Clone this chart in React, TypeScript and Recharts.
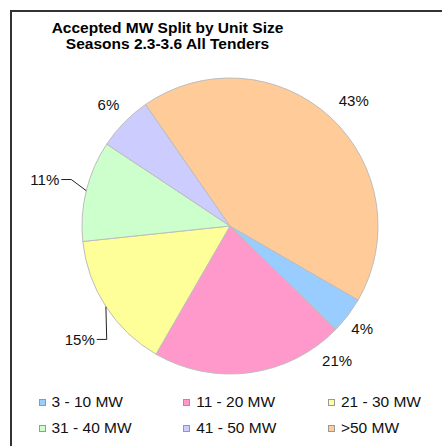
import React from 'react';
import { PieChart, Pie, Cell, Legend } from 'recharts';

const sizeBands = ['3 - 10 MW', '11 - 20 MW', '21 - 30 MW', '31 - 40 MW', '41 - 50 MW', '>50 MW'];
const sharePct = [4, 21, 15, 11, 6, 43];
const bandColors = ['#99CCFF', '#FF99CC', '#FFFF99', '#CCFFCC', '#CCCCFF', '#FFCC99'];

// where each % label sits: nudge from the slice mid angle (deg, ccw) and distance from centre
const labelNudge = [-0.5, 30.7, 7.4, -1.6, -0.6, -2.1];
const labelDist = [167, 172, 175, 175, 172, 176];
const hasLeader = [false, false, true, true, false, false];

const chartData = sizeBands.map((name, i) => ({ name, value: sharePct[i] }));

const RAD = Math.PI / 180;
const FONT = '"Liberation Sans", Arial, Helvetica, sans-serif';

const renderLabel = (props: any) => {
  const { cx, cy, midAngle, outerRadius, index, value } = props;
  const ang = midAngle + labelNudge[index];
  const r = labelDist[index];
  const x = cx + r * Math.cos(-ang * RAD);
  const y = cy + r * Math.sin(-ang * RAD);
  const txt = { fontFamily: FONT, fontSize: 15, fill: '#111' };
  if (hasLeader[index]) {
    const ex = cx + outerRadius * Math.cos(-midAngle * RAD);
    const ey = cy + outerRadius * Math.sin(-midAngle * RAD);
    return (
      <g>
        <polyline points={`${ex},${ey} ${x + 10},${y} ${x},${y}`} fill="none" stroke="#222" strokeWidth={1} />
        <text x={x - 2} y={y} textAnchor="end" dominantBaseline="central" style={txt}>{value}%</text>
      </g>
    );
  }
  return (
    <text x={x} y={y} textAnchor="middle" dominantBaseline="central" style={txt}>{value}%</text>
  );
};

const LegendGrid = ({ payload }: any) => {
  // keep the series order, whatever order the payload comes in
  const items = [...(payload || [])].sort((a: any, b: any) => sizeBands.indexOf(a.value) - sizeBands.indexOf(b.value));
  return (
    <div style={{ position: 'relative', width: 442, height: 50, fontFamily: FONT, fontSize: 15.5, color: '#111' }}>
      {items.map((p: any, i: number) => (
        <div
          key={p.value}
          style={{
            position: 'absolute',
            left: 38.5 + (i % 3) * 144.7,
            top: Math.floor(i / 3) * 26,
            height: 20,
            display: 'flex',
            alignItems: 'center',
            whiteSpace: 'nowrap',
          }}
        >
          <span style={{ display: 'inline-block', width: 5, height: 5, background: p.color || bandColors[i], border: '0.5px solid #999', marginRight: 6 }} />
          <span>{p.value}</span>
        </div>
      ))}
    </div>
  );
};

export default function App() {
  const titleLine = { height: 16, lineHeight: '16px' };
  return (
    <div style={{ position: 'absolute', left: 0, top: 0, width: 442, height: 446, overflow: 'hidden', background: '#fff' }}>
      <div style={{ position: 'absolute', left: 10, top: 10, width: 460, height: 460, borderTop: '2px solid #333', borderLeft: '2px solid #333' }} />
      <div style={{ position: 'absolute', left: 17.5, top: 19.5, width: 300, textAlign: 'center', fontFamily: FONT, fontWeight: 'bold', fontSize: 15.5, color: '#000' }}>
        <div style={titleLine}>Accepted MW Split by Unit Size</div>
        <div style={titleLine}>Seasons 2.3-3.6 All Tenders</div>
      </div>
      <PieChart width={442} height={446} margin={{ top: 0, right: 0, bottom: 0, left: 0 }} style={{ position: 'absolute', left: 0, top: 0 }}>
        <Pie
          data={chartData}
          dataKey="value"
          nameKey="name"
          cx={230}
          cy={226}
          outerRadius={148}
          startAngle={-30}
          endAngle={-390}
          stroke="#BDBDBD"
          strokeWidth={1}
          label={renderLabel}
          labelLine={false}
          isAnimationActive={false}
        >
          {chartData.map((d, i) => (
            <Cell key={d.name} fill={bandColors[i]} />
          ))}
        </Pie>
        <Legend content={<LegendGrid />} wrapperStyle={{ left: 0, top: 392, width: 442 }} />
      </PieChart>
    </div>
  );
}
